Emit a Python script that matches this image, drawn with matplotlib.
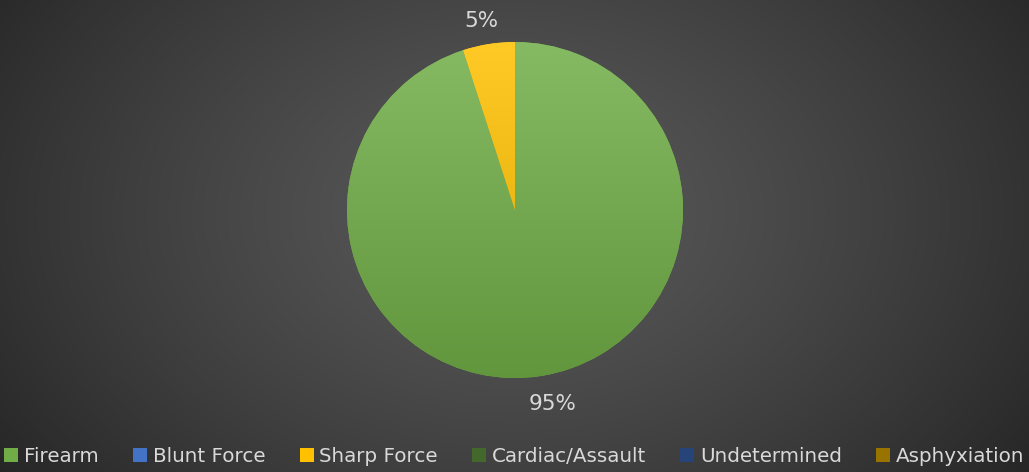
import numpy as np
import matplotlib.pyplot as plt
from matplotlib.colors import to_rgb
from matplotlib.patches import Patch

causes = ["Firearm", "Blunt Force", "Sharp Force", "Cardiac/Assault",
          "Undetermined", "Asphyxiation"]
shares = [95, 0, 5, 0, 0, 0]
colors = ["#70ad47", "#4472c4", "#ffc000", "#43682b", "#264478", "#997300"]

W, H = 1029, 472
fig = plt.figure(figsize=(W / 100, H / 100), dpi=100)

# radial background
bg = fig.add_axes([0, 0, 1, 1])
yy, xx = np.mgrid[0:H, 0:W]
d = np.sqrt(((xx - W / 2) / (W * 0.62)) ** 2 + ((yy - H * 0.45) / (H * 0.95)) ** 2)
d = np.clip(d, 0, 1)
c0, c1 = np.array(to_rgb("#595959")), np.array(to_rgb("#262626"))
img = c0 + (c1 - c0) * d[..., None] ** 1.3
bg.imshow(img, extent=(0, W, 0, H), aspect="auto", origin="upper")
bg.axis("off")

ax = fig.add_axes([0, 0, 1, 1])

cx, cy, r = 515, H - 210, 168
vals = [v for v in shares if v > 0]
cols = [c for v, c in zip(shares, colors) if v > 0]
wedges, texts, autotexts = ax.pie(
    vals, colors=cols, startangle=90, counterclock=False,
    center=(cx, cy), radius=r, frame=True,
    autopct="%1.0f%%", pctdistance=1.17,
    textprops=dict(color="#d9d9d9", fontsize=15.5),
    wedgeprops=dict(linewidth=0),
)
# Excel nudges the labels a little
x0, y0 = autotexts[0].get_position()
autotexts[0].set_position((x0 + 7, y0))
x1, y1 = autotexts[1].get_position()
autotexts[1].set_position((x1 - 3, y1 - 5))

# vertical gradient fill for each slice
t = np.linspace(0, 1, 256)[:, None]
for w, c in zip(wedges, cols):
    base = np.array(to_rgb(c))
    top = base + (1 - base) * 0.15
    bot = base * 0.87
    grad = top + (bot - top) * t[..., None]
    grad = np.repeat(grad, 2, axis=1)
    im = ax.imshow(grad, extent=(cx - r, cx + r, cy - r, cy + r),
                   aspect="auto", origin="upper", zorder=w.get_zorder() + 0.1)
    im.set_clip_path(w)
ax.set_xlim(0, W)
ax.set_ylim(0, H)
ax.axis("off")

handles = [Patch(facecolor=c, edgecolor="none") for c in colors]
fig.legend(handles, causes, loc="lower center", ncol=6, frameon=False,
           bbox_to_anchor=(0.5, -0.025), fontsize=14.3, labelcolor="#d9d9d9",
           handlelength=0.7, handleheight=0.7, handletextpad=0.3,
           columnspacing=1.72)

fig.savefig("out.png", dpi=100)
